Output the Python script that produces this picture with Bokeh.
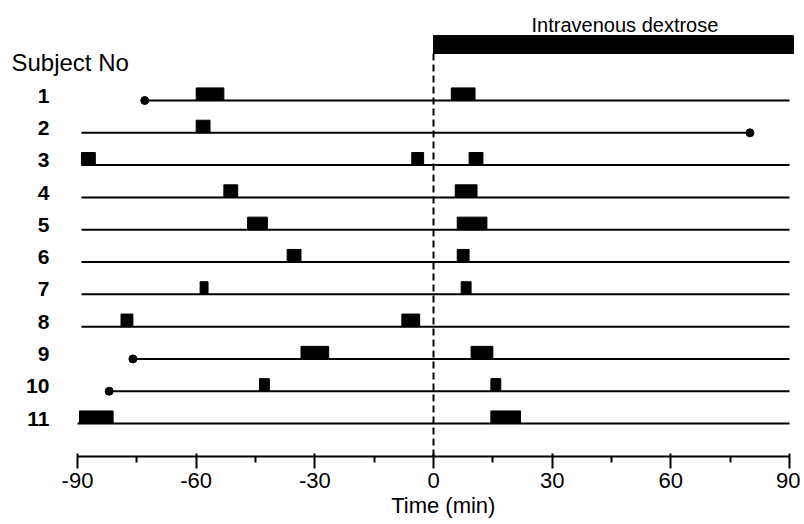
from bokeh.plotting import figure
from bokeh.models import Range1d, FixedTicker
from bokeh.core.properties import value
from bokeh.embed import file_html
from bokeh.resources import INLINE

# ---- data ----
subjects = [1, 2, 3, 4, 5, 6, 7, 8, 9, 10, 11]
subject_labels = ["1", "2", "3", "4", "5", "6", "7", "8", "9", "10", "11"]
line_start = [-73, -89, -89, -89, -89, -89, -89, -89, -76, -82, -90]
line_end = [90, 80, 90, 90, 90, 90, 90, 90, 90, 90, 90]

dot_subject = [1, 2, 9, 10]
dot_time = [-73, 80, -76, -82]

block_subject = [1, 1, 2, 3, 3, 3, 4, 4, 5, 5, 6, 6, 7, 7, 8, 8, 9, 9, 10, 10, 11, 11]
block_start = [-60, 4.5, -60, -89, -5.5, 9, -53, 5.5, -47, 6, -37, 6, -59, 7,
               -79, -8, -33.5, 9.5, -44, 14.5, -89.5, 14.5]
block_end = [-53, 10.5, -56.5, -85.5, -2.5, 12.5, -49.5, 11, -42, 13.5, -33.5, 9,
             -57, 9.5, -76, -3.5, -26.5, 15, -41.5, 17, -81, 22]

infusion_start = 0
infusion_end = 91
infusion_label = "Intravenous dextrose"

x_ticks = [-90, -60, -30, 0, 30, 60, 90]
x_tick_labels = ["-90", "-60", "-30", "0", "30", "60", "90"]
x_minor_ticks = [-75, -45, -15, 15, 45, 75]
x_title = "Time (min)"

# ---- figure ----
W, H = 800, 520
p = figure(width=W, height=H, output_backend="svg", toolbar_location=None,
           x_range=Range1d(-109.47, 92.78), y_range=Range1d(12.02, -2.096),
           y_axis_location=None, min_border_left=0, min_border_right=0,
           min_border_top=0, min_border_bottom=64)
p.outline_line_color = None
p.xgrid.visible = False
p.ygrid.visible = False
p.background_fill_color = "white"
p.border_fill_color = "white"

FONT = "Liberation Sans"

ax = p.xaxis[0]
ax.ticker = FixedTicker(ticks=x_ticks, minor_ticks=x_minor_ticks)
ax.major_label_overrides = dict(zip(x_ticks, x_tick_labels))
ax.bounds = (-90, 90)
ax.axis_line_width = 2
ax.axis_line_color = "black"
ax.major_tick_line_width = 2
ax.minor_tick_line_width = 2
ax.major_tick_in = 3
ax.major_tick_out = 12
ax.minor_tick_in = 0
ax.minor_tick_out = 6
ax.major_label_text_font = FONT
ax.major_label_text_font_size = "22px"
ax.major_label_text_color = "black"
ax.major_label_standoff = 4
# the label is centred on the frame; pad with no-break spaces so it sits
# slightly right of zero as in the original
ax.axis_label = "\u00a0" * 14 + x_title
ax.axis_label_text_font = FONT
ax.axis_label_text_font_size = "22px"
ax.axis_label_text_font_style = "normal"
ax.axis_label_text_color = "black"
ax.axis_label_standoff = 2

# subject lines
p.segment(x0=line_start, x1=line_end, y0=subjects, y1=subjects,
          line_color="black", line_width=2)

# dots
p.scatter(x=dot_time, y=dot_subject, size=8, color="black")

# blocks
bh = 0.39
p.quad(left=block_start, right=block_end,
       bottom=block_subject, top=[s - bh for s in block_subject],
       fill_color="black", line_color="black", line_width=1)

# infusion bar
p.quad(left=[infusion_start], right=[infusion_end], top=[-1.01], bottom=[-0.455],
       fill_color="black", line_color="black")

# dashed zero line
p.segment(x0=[0], x1=[0], y0=[-0.455], y1=[12.02], line_color="black",
          line_width=2, line_dash="7 4")

# texts
p.text(x=[48.4], y=[-1.33], text=[infusion_label], text_font=value(FONT),
       text_font_size="20px", text_align="center", text_baseline="alphabetic",
       text_color="black")
p.text(x=[-106.7], y=[-0.18], text=["Subject No"], text_font=value(FONT),
       text_font_size="24px", text_align="left", text_baseline="alphabetic",
       text_color="black")
p.text(x=[-97.1] * len(subjects), y=[s - 0.15 for s in subjects], text=subject_labels,
       text_font=value(FONT), text_font_size="21px", text_font_style="bold",
       text_align="right", text_baseline="middle", text_color="black")

open("out.html", "w").write(file_html(p, INLINE))
